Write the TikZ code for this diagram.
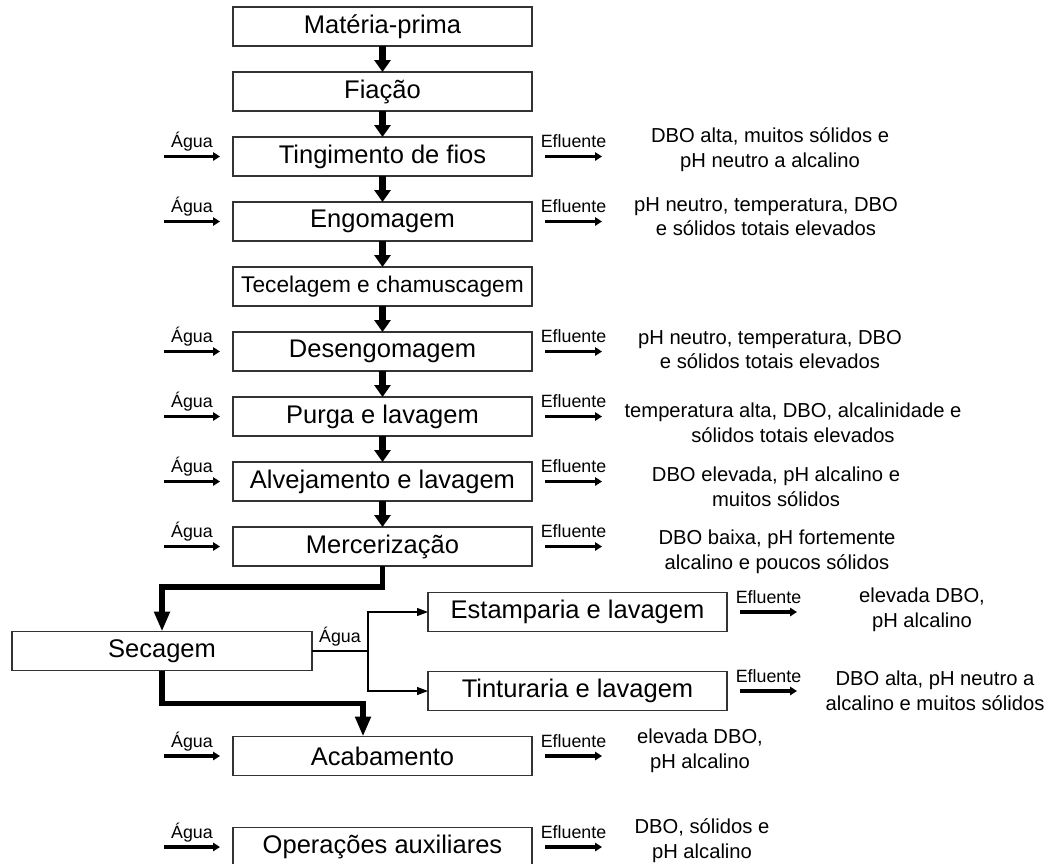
\documentclass[tikz,border=0pt]{standalone}
\usepackage{fontspec}
\setmainfont{Liberation Sans}
\usetikzlibrary{positioning,arrows.meta}

\begin{document}
\begin{tikzpicture}[
    font=\fontsize{12.75}{15}\selectfont,
    stage/.style={draw=black!80,rectangle,line width=0.6pt,inner sep=0pt,outer sep=0pt,
                  minimum width=149.5pt,minimum height=19.5pt},
    note/.style={align=center,font=\fontsize{10.1}{12.4}\selectfont},
    flowtag/.style={anchor=base,yshift=4.5pt,inner sep=0pt,font=\fontsize{8.9}{10}\selectfont},
    main/.style={-{Triangle[length=6pt,width=8pt]},line width=3.5pt},
    route/.style={-{Triangle[length=10pt,width=7.5pt]},line width=2.8pt},
    side/.style={-{Triangle[length=3.5pt,width=4.2pt]},line width=1.6pt},
    branch/.style={-{Triangle[length=5.5pt,width=4pt]},line width=0.6pt}
]
  \useasboundingbox (0,0) rectangle (526.5pt,-431.5pt);

  \node[stage] (mp) at (191.25pt,-13.25pt) {Matéria-prima};
  \node[stage,below=13pt of mp] (fia) {Fiação};
  \node[stage,below=13pt of fia] (ting) {Tingimento de fios};
  \node[stage,below=13pt of ting] (engo) {Engomagem};
  \node[stage,below=13pt of engo,font=\fontsize{11.35}{13}\selectfont] (tece) {Tecelagem e chamuscagem};
  \node[stage,below=13pt of tece] (deseng) {Desengomagem};
  \node[stage,below=13pt of deseng] (purga) {Purga e lavagem};
  \node[stage,below=13pt of purga] (alvej) {Alvejamento e lavagem};
  \node[stage,below=13pt of alvej] (merc) {Mercerização};
  \node[stage,below=32.75pt of merc,xshift=-110.25pt,minimum width=150pt] (sec) {Secagem};
  \node[stage,right=58pt of sec,yshift=19.5pt] (estamp) {Estamparia e lavagem};
  \node[stage,below=20pt of estamp] (tint) {Tinturaria e lavagem};
  \node[stage,below=85.25pt of merc] (acab) {Acabamento};
  \node[stage,below=26pt of acab] (oper) {Operações auxiliares};

  % main line
  \draw[main] (mp) -- (fia);
  \draw[main] (fia) -- (ting);
  \draw[main] (ting) -- (engo);
  \draw[main] (engo) -- (tece);
  \draw[main] (tece) -- (deseng);
  \draw[main] (deseng) -- (purga);
  \draw[main] (purga) -- (alvej);
  \draw[main] (alvej) -- (merc);

  \coordinate[below=10.5pt of merc] (merc-turn);
  \draw[route] (merc.south) -- (merc-turn) -| (sec.north);
  \coordinate[below=16.5pt of sec] (sec-turn);
  \coordinate (acab-in) at ([xshift=-9.75pt]acab.north);
  \draw[route] (sec.south) -- (sec-turn) -| (acab-in);

  % water to printing and dyeing
  \coordinate[right=28pt of sec] (split);
  \draw[line width=0.6pt] (sec) -- node[flowtag] {Água} (split);
  \draw[branch] (split) |- (estamp);
  \draw[branch] (split) |- (tint);

  % water in, effluent out
  \foreach \n in {ting,engo,deseng,purga,alvej,merc,acab,oper} {
    \coordinate[left=34.5pt of \n] (\n-w0);
    \coordinate[left=6.5pt of \n] (\n-w1);
    \draw[side] (\n-w0) -- node[flowtag] {Água} (\n-w1);
  }
  \foreach \n in {ting,engo,deseng,purga,alvej,merc,estamp,tint,acab,oper} {
    \coordinate[right=6.5pt of \n] (\n-e0);
    \coordinate[right=35pt of \n] (\n-e1);
    \draw[side] (\n-e0) -- node[flowtag] {Efluente} (\n-e1);
  }

  \node[note] (ting-txt) at ([xshift=119pt,yshift=3.5pt]ting.east) {DBO alta, muitos sólidos e\\pH neutro a alcalino};
  \node[note] (engo-txt) at ([xshift=117pt,yshift=2.5pt]engo.east) {pH neutro, temperatura, DBO\\e sólidos totais elevados};
  \node[note] (deseng-txt) at ([xshift=119pt,yshift=1pt]deseng.east) {pH neutro, temperatura, DBO\\e sólidos totais elevados};
  \node[note] (purga-txt) at ([xshift=130.5pt,yshift=-3pt]purga.east) {temperatura alta, DBO, alcalinidade e\\sólidos totais elevados};
  \node[note] (alvej-txt) at ([xshift=122pt,yshift=-2.5pt]alvej.east) {DBO elevada, pH alcalino e\\muitos sólidos};
  \node[note] (merc-txt) at ([xshift=122.5pt,yshift=-2.5pt]merc.east) {DBO baixa, pH fortemente\\alcalino e poucos sólidos};
  \node[note] (estamp-txt) at ([xshift=97.5pt,yshift=1pt]estamp.east) {elevada DBO,\\pH alcalino};
  \node[note] (tint-txt) at ([xshift=104pt]tint.east) {DBO alta, pH neutro a\\alcalino e muitos sólidos};
  \node[note] (acab-txt) at ([xshift=84pt,yshift=2.5pt]acab.east) {elevada DBO,\\pH alcalino};
  \node[note] (oper-txt) at ([xshift=85pt,yshift=3pt]oper.east) {DBO, sólidos e\\pH alcalino};
\end{tikzpicture}
\end{document}
